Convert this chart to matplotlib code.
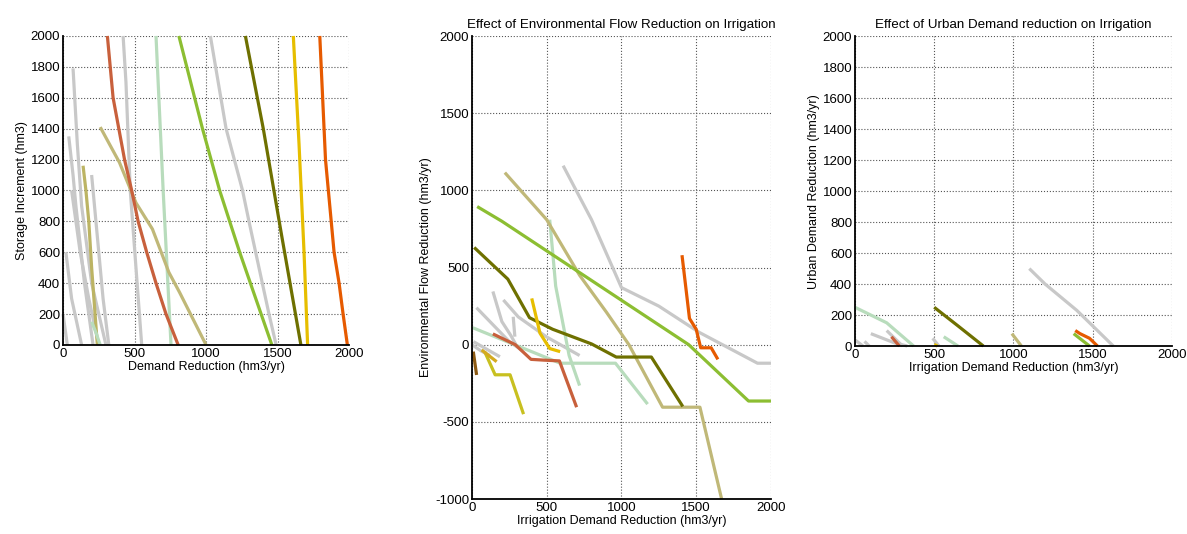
import matplotlib
matplotlib.use("Agg")
import matplotlib.pyplot as plt

plt.rcParams["font.family"] = ["Liberation Sans", "DejaVu Sans"]
plt.rcParams["font.size"] = 9
plt.rcParams["axes.unicode_minus"] = False

GRAY = "#c8c8c8"
RED = "#c8603c"
MINT = "#b8dcbc"
LIME = "#8cbe32"
OLIVE = "#6e7000"
GOLD = "#e6be00"
ORANGE = "#e65a00"
KHAKI = "#c0b878"
KHAKI2 = "#bcb464"
CHART = "#c8c020"
BROWN = "#8c5a14"

# --- panel 1: storage increment vs demand reduction
storage_x = [
    [70, 100, 130, 200, 300],
    [40, 70, 90, 150, 210],
    [20, 60, 130],
    [200, 240, 280, 320],
    [0, 15, 30],
    [60, 120, 180, 250],
    [420, 440, 470, 510, 550],
    [1030, 1140, 1255, 1300, 1370, 1440, 1490],
    [140, 160, 180, 200, 220, 240],
    [200, 230, 260],
    [650, 700, 755],
    [260, 395, 510, 625, 740, 815, 1000],
    [310, 350, 430, 480, 525, 585, 650, 720, 805],
    [810, 975, 1095, 1235, 1460],
    [1275, 1400, 1530, 1663],
    [1610, 1650, 1685, 1710],
    [1795, 1815, 1835, 1855, 1875, 1895, 1930, 1958, 1988],
]
storage_y = [
    [1790, 1300, 900, 400, 0],
    [1350, 1100, 900, 400, 0],
    [600, 300, 0],
    [1100, 700, 300, 0],
    [200, 100, 0],
    [1000, 600, 300, 0],
    [2000, 1700, 1000, 500, 0],
    [2000, 1400, 1000, 800, 500, 200, 0],
    [1160, 1000, 800, 500, 250, 0],
    [150, 80, 0],
    [2000, 1000, 0],
    [1410, 1180, 920, 750, 470, 340, 0],
    [2000, 1600, 1200, 1000, 800, 600, 400, 200, 0],
    [2000, 1400, 1000, 600, 0],
    [2000, 1400, 700, 0],
    [2000, 1300, 600, 0],
    [2000, 1600, 1200, 1000, 800, 600, 400, 200, 0],
]
storage_colors = [GRAY, GRAY, GRAY, GRAY, GRAY, GRAY, GRAY, GRAY, KHAKI2, MINT,
                  MINT, KHAKI, RED, LIME, OLIVE, GOLD, ORANGE]

# --- panel 2: environmental flow vs irrigation
env_x = [
    [140, 200, 260, 300],
    [30, 150, 250, 340],
    [210, 310, 500, 720],
    [276, 287],
    [10, 100, 187],
    [0, 60, 120],
    [610, 800, 1000, 1250, 1520, 1910, 2000],
    [5, 590, 960, 1175],
    [520, 540, 560, 650, 720],
    [220, 500, 720, 900, 1050, 1275, 1525, 1670],
    [35, 200, 700, 1200, 1450, 1850, 2000],
    [15, 240, 385, 540, 800, 965, 1200, 1410],
    [140, 290, 395, 480, 585, 700],
    [400, 455, 520, 590],
    [85, 155, 255, 345],
    [65, 165],
    [9, 31],
    [1405, 1455, 1500, 1530, 1600, 1645],
]
env_y = [
    [345, 150, 60, -10],
    [240, 120, 20, -40],
    [290, 180, 50, -70],
    [181, 52],
    [20, -30, -78],
    [0, -40, -70],
    [1160, 810, 370, 250, 80, -120, -120],
    [110, -120, -120, -385],
    [810, 600, 380, -70, -265],
    [1115, 810, 450, 210, 0, -405, -405, -1000],
    [895, 800, 480, 160, 0, -365, -365],
    [630, 425, 175, 100, 5, -80, -80, -400],
    [70, 0, -95, -100, -105, -405],
    [300, 75, -25, -45],
    [-45, -195, -195, -450],
    [-34, -110],
    [-45, -196],
    [580, 170, 100, -20, -20, -95],
]
env_colors = [GRAY, GRAY, GRAY, GRAY, GRAY, GRAY, GRAY, MINT, MINT, KHAKI, LIME,
              OLIVE, RED, GOLD, CHART, "#d4aa20", BROWN, ORANGE]

# --- panel 3: urban demand vs irrigation
urban_x = [
    [0, 50],
    [60, 90],
    [100, 250, 330],
    [200, 260, 300],
    [490, 530],
    [1100, 1200, 1400, 1630],
    [0, 200, 370],
    [560, 650],
    [230, 280],
    [500, 520],
    [990, 1050],
    [500, 650, 810],
    [1380, 1480],
    [1390, 1420, 1480, 1530],
]
urban_y = [
    [40, 0],
    [30, 0],
    [80, 20, 0],
    [100, 40, 0],
    [50, 0],
    [500, 400, 230, 0],
    [250, 150, 0],
    [60, 0],
    [60, 0],
    [10, 0],
    [80, 0],
    [250, 130, 0],
    [80, 0],
    [100, 80, 50, 0],
]
urban_colors = [GRAY, GRAY, GRAY, GRAY, GRAY, GRAY, MINT, MINT, RED, GOLD,
                KHAKI, OLIVE, LIME, ORANGE]


def estilo(ax, xlim, ylim, yticks):
    ax.set_xlim(*xlim)
    ax.set_ylim(*ylim)
    ax.set_xticks([0, 500, 1000, 1500, 2000])
    ax.set_yticks(yticks)
    ax.grid(True, linestyle=":", color="#555555", linewidth=0.8)
    for s in ["top", "right"]:
        ax.spines[s].set_visible(False)
    for s in ["left", "bottom"]:
        ax.spines[s].set_linewidth(1.3)
    ax.tick_params(length=0, pad=2, labelsize=9.5)
    ax.set_axisbelow(True)


fig = plt.figure(figsize=(11.87, 5.34), dpi=100)

ax1 = fig.add_axes([0.0531, 0.354, 0.241, 0.5787])
for xs, ys, c in zip(storage_x, storage_y, storage_colors):
    ax1.plot(xs, ys, color=c, lw=2.3, solid_capstyle="butt", clip_on=False)
estilo(ax1, (0, 2000), (0, 2000), range(0, 2001, 200))
ax1.set_xlabel("Demand Reduction (hm3/yr)", labelpad=1)
ax1.set_ylabel("Storage Increment (hm3)", labelpad=2)

ax2 = fig.add_axes([0.3976, 0.0655, 0.2519, 0.867])
for xs, ys, c in zip(env_x, env_y, env_colors):
    ax2.plot(xs, ys, color=c, lw=2.3, solid_capstyle="butt", clip_on=False)
estilo(ax2, (0, 2000), (-1000, 2000), range(-1000, 2001, 500))
ax2.set_xlabel("Irrigation Demand Reduction (hm3/yr)", labelpad=1)
ax2.set_ylabel("Environmental Flow Reduction (hm3/yr)", labelpad=2)
ax2.set_title("Effect of Environmental Flow Reduction on Irrigation", fontsize=9.6, pad=6)

ax3 = fig.add_axes([0.7203, 0.352, 0.267, 0.580])
for xs, ys, c in zip(urban_x, urban_y, urban_colors):
    ax3.plot(xs, ys, color=c, lw=2.3, solid_capstyle="butt", clip_on=False)
estilo(ax3, (0, 2000), (0, 2000), range(0, 2001, 200))
ax3.set_xlabel("Irrigation Demand Reduction (hm3/yr)", labelpad=1)
ax3.set_ylabel("Urban Demand Reduction (hm3/yr)", labelpad=2)
ax3.set_title("Effect of Urban Demand reduction on Irrigation", fontsize=9.6, pad=6)

fig.savefig("out.png", dpi=100)
